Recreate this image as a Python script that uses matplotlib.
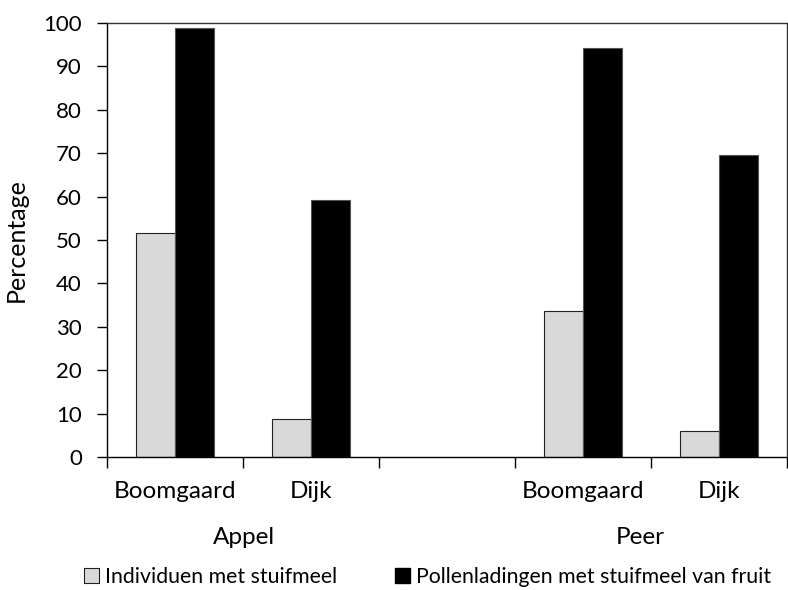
import numpy as np
import matplotlib.pyplot as plt
from matplotlib.patches import Patch

plt.rcParams['font.family'] = ['Lato', 'DejaVu Sans']

# data
groups = ['Appel', 'Peer']
sites = ['Boomgaard', 'Dijk']
individuen = {'Appel': [51.6, 8.7], 'Peer': [33.6, 6.0]}
pollen = {'Appel': [98.9, 59.2], 'Peer': [94.2, 69.7]}
series_names = ['Individuen met stuifmeel', 'Pollenladingen met stuifmeel van fruit']

fig = plt.figure(figsize=(7.88, 5.90), dpi=100)
ax = fig.add_axes([107 / 788, 1 - 457 / 590, 680 / 788, 434 / 590])

w = 0.287
slot = 0
centers = []
for g in groups:
    for i, s in enumerate(sites):
        c = slot + 0.5
        ax.bar(c - w / 2, individuen[g][i], w, color='#d9d9d9', edgecolor='#222222', linewidth=0.8)
        ax.bar(c + w / 2, pollen[g][i], w, color='black', edgecolor='#555555', linewidth=0.8)
        centers.append((c, s))
        slot += 1
    if g != groups[-1]:
        slot += 1  # empty slot between the fruits
n_slots = slot

ax.set_xlim(0, n_slots)
ax.set_ylim(0, 100)
ax.set_yticks(np.arange(0, 101, 10))
ax.set_xticks(np.arange(0, n_slots + 1))
ax.set_xticklabels([])
ax.tick_params(axis='x', direction='out', length=8, width=1)
ax.tick_params(axis='y', direction='out', length=7, width=1, labelsize=16, pad=11)
for sp in ax.spines.values():
    sp.set_linewidth(1)
ax.spines['top'].set_color('#333333')
ax.spines['right'].set_color('#333333')

for c, s in centers:
    ax.text(c, -8, s, ha='center', va='center', fontsize=17.5, clip_on=False)

# group labels
ax.text((243.5 - 107) / 680, -80 / 434, groups[0], ha='center', va='center',
        fontsize=17.5, transform=ax.transAxes)
ax.text((640 - 107) / 680, -80 / 434, groups[1], ha='center', va='center',
        fontsize=17.5, transform=ax.transAxes)

ax.set_ylabel('Percentage', fontsize=18, labelpad=11)

handles = [Patch(facecolor='#d9d9d9', edgecolor='#222222', linewidth=0.8),
           Patch(facecolor='black', edgecolor='black')]
fig.legend(handles, series_names, loc='center', bbox_to_anchor=(0.5425, 1 - 577 / 590), ncol=2,
           frameon=False, fontsize=15.3, handlelength=0.7, handleheight=0.7, handletextpad=0.3,
           columnspacing=2.7)

fig.savefig('out.png', dpi=100)
